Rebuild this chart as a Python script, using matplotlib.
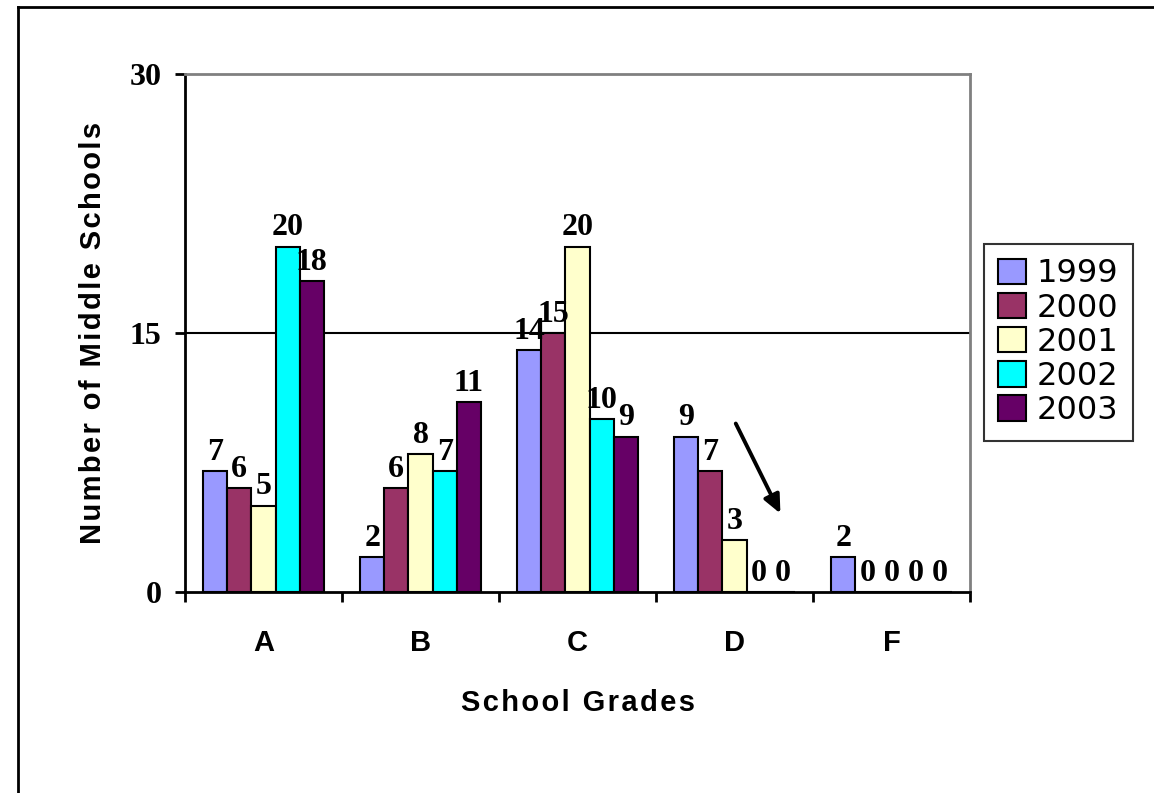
import numpy as np
import matplotlib
matplotlib.use("Agg")
import matplotlib.pyplot as plt
from matplotlib.lines import Line2D

# grade counts of middle schools per year
grades = ["A", "B", "C", "D", "F"]
years = ["1999", "2000", "2001", "2002", "2003"]
counts_1999 = [7, 2, 14, 9, 2]
counts_2000 = [6, 6, 15, 7, 0]
counts_2001 = [5, 8, 20, 3, 0]
counts_2002 = [20, 7, 10, 0, 0]
counts_2003 = [18, 11, 9, 0, 0]
yticks = [0, 15, 30]

series = [counts_1999, counts_2000, counts_2001, counts_2002, counts_2003]
colors = ["#9999FF", "#993366", "#FFFFCC", "#00FFFF", "#660066"]

serif = ["Liberation Serif", "DejaVu Serif"]
sans = ["Liberation Sans", "DejaVu Sans"]


def spaced(s):
    # open up the letters a little with hair spaces
    return "\u200a".join(s)


fig = plt.figure(figsize=(11.54, 7.93), dpi=100)
ax = fig.add_axes([0.1603, 0.2535, 0.6803, 0.6532])

x = np.arange(len(grades))
w = 0.154
for i, (vals, col, yr) in enumerate(zip(series, colors, years)):
    pos = x - 2 * w + i * w
    bars = ax.bar(pos, vals, w, color=col, edgecolor="black", linewidth=1.5,
                  label=yr, zorder=3)
    for b, v in zip(bars, vals):
        ax.annotate(str(v), (b.get_x() + b.get_width() / 2, v),
                    xytext=(0, 3), textcoords="offset points",
                    ha="center", va="bottom", fontsize=23,
                    fontweight="bold", family=serif, zorder=4)

ax.set_xlim(-0.5, 4.5)
ax.set_ylim(0, 30)

# gridline at 15, grey box top/right
ax.axhline(15, color="black", linewidth=1.5, zorder=1)
ax.spines["top"].set_color("#808080")
ax.spines["right"].set_color("#808080")
for s in ax.spines.values():
    s.set_linewidth(2)

ax.set_yticks(yticks)
ax.set_yticklabels([str(t) for t in yticks], fontsize=23, fontweight="bold",
                   family=serif)
ax.tick_params(axis="y", length=7, width=2, pad=10)

# category boundaries as ticks, grade letters centred between them
ax.set_xticks(np.arange(-0.5, 5, 1))
ax.set_xticklabels([])
ax.set_xticks(x, minor=True)
ax.set_xticklabels(grades, minor=True, fontsize=21, fontweight="bold",
                   family=sans)
ax.tick_params(axis="x", which="major", length=7, width=2)
ax.tick_params(axis="x", which="minor", length=0, pad=27)

ax.set_xlabel(spaced("School Grades"), fontsize=21, fontweight="bold",
              family=sans, labelpad=23)
ax.set_ylabel(spaced("Number of Middle Schools"), fontsize=21,
              fontweight="bold", family=sans, labelpad=16)

# arrow pointing down towards the empty D bars
ax.annotate("", xy=(3.3, 4.4), xytext=(3.0, 9.9),
            arrowprops=dict(arrowstyle="-|>,head_length=1.1,head_width=0.5",
                            color="black", lw=2.8))

leg = ax.legend(loc="upper left", bbox_to_anchor=(984 / 1154, 1 - 244 / 793),
                bbox_transform=fig.transFigure, frameon=True, fancybox=False,
                prop={"family": "DejaVu Sans", "size": 23},
                handlelength=0.85, handleheight=0.85, handletextpad=0.35,
                labelspacing=0.1, borderpad=0.45, borderaxespad=0)
leg.get_frame().set_edgecolor("black")
leg.get_frame().set_linewidth(1.5)
for h in leg.legend_handles:
    h.set_linewidth(1.5)

# outer chart border (left and top edges only)
fig.add_artist(Line2D([18 / 1154, 18 / 1154], [0, 1 - 7 / 793],
                      transform=fig.transFigure, color="black", lw=2))
fig.add_artist(Line2D([18 / 1154, 1], [1 - 7 / 793, 1 - 7 / 793],
                      transform=fig.transFigure, color="black", lw=2))

fig.savefig("out.png", dpi=100)
